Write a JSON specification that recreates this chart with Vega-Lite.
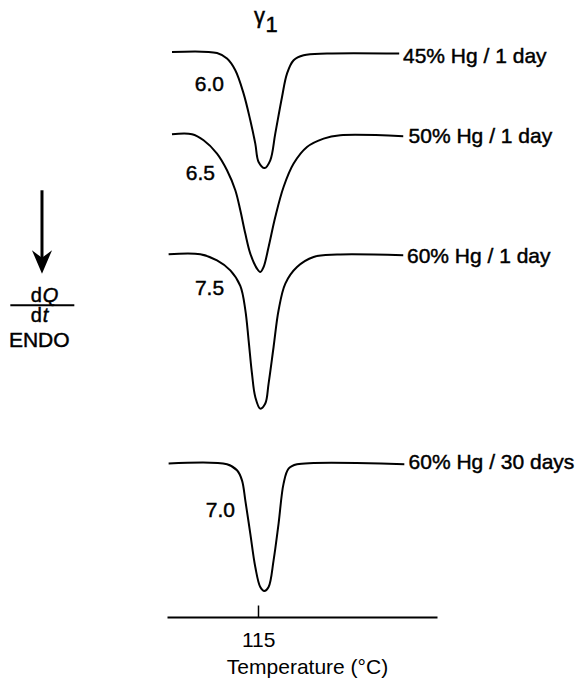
{
  "$schema": "https://vega.github.io/schema/vega-lite/v6.json",
  "width": 270,
  "height": 600,
  "autosize": {"type": "none"},
  "padding": {"left": 167, "top": 17, "right": 146, "bottom": 67},
  "background": "white",
  "config": {
    "view": {"stroke": null},
    "font": "Liberation Sans",
    "text": {"font": "Liberation Sans", "fontSize": 21, "color": "black", "fill": "black", "stroke": "black", "strokeWidth": 0.45}
  },
  "datasets": {
    "curves": [
      {"sample": "45% Hg / 1 day", "temperature": 102.24, "heat_flow": 94.17},
      {"sample": "45% Hg / 1 day", "temperature": 108.91, "heat_flow": 94.0},
      {"sample": "45% Hg / 1 day", "temperature": 110.39, "heat_flow": 93.07},
      {"sample": "45% Hg / 1 day", "temperature": 111.62, "heat_flow": 91.12},
      {"sample": "45% Hg / 1 day", "temperature": 112.85, "heat_flow": 87.23},
      {"sample": "45% Hg / 1 day", "temperature": 113.84, "heat_flow": 82.78},
      {"sample": "45% Hg / 1 day", "temperature": 114.58, "heat_flow": 78.9},
      {"sample": "45% Hg / 1 day", "temperature": 115.07, "heat_flow": 75.83},
      {"sample": "45% Hg / 1 day", "temperature": 115.96, "heat_flow": 74.83},
      {"sample": "45% Hg / 1 day", "temperature": 116.8, "heat_flow": 76.12},
      {"sample": "45% Hg / 1 day", "temperature": 117.54, "heat_flow": 80.57},
      {"sample": "45% Hg / 1 day", "temperature": 118.54, "heat_flow": 86.67},
      {"sample": "45% Hg / 1 day", "temperature": 119.28, "heat_flow": 90.57},
      {"sample": "45% Hg / 1 day", "temperature": 120.26, "heat_flow": 92.78},
      {"sample": "45% Hg / 1 day", "temperature": 121.74, "heat_flow": 93.62},
      {"sample": "45% Hg / 1 day", "temperature": 125.2, "heat_flow": 93.9},
      {"sample": "45% Hg / 1 day", "temperature": 135.9, "heat_flow": 93.9},

      {"sample": "50% Hg / 1 day", "temperature": 102.24, "heat_flow": 80.45},
      {"sample": "50% Hg / 1 day", "temperature": 105.2, "heat_flow": 80.45},
      {"sample": "50% Hg / 1 day", "temperature": 106.92, "heat_flow": 79.45},
      {"sample": "50% Hg / 1 day", "temperature": 108.91, "heat_flow": 77.23},
      {"sample": "50% Hg / 1 day", "temperature": 110.39, "heat_flow": 74.45},
      {"sample": "50% Hg / 1 day", "temperature": 111.62, "heat_flow": 71.12},
      {"sample": "50% Hg / 1 day", "temperature": 112.36, "heat_flow": 67.78},
      {"sample": "50% Hg / 1 day", "temperature": 113.1, "heat_flow": 63.9},
      {"sample": "50% Hg / 1 day", "temperature": 113.84, "heat_flow": 60.57},
      {"sample": "50% Hg / 1 day", "temperature": 114.83, "heat_flow": 58.07},
      {"sample": "50% Hg / 1 day", "temperature": 115.32, "heat_flow": 57.5},
      {"sample": "50% Hg / 1 day", "temperature": 115.81, "heat_flow": 58.33},
      {"sample": "50% Hg / 1 day", "temperature": 116.55, "heat_flow": 61.67},
      {"sample": "50% Hg / 1 day", "temperature": 117.54, "heat_flow": 66.67},
      {"sample": "50% Hg / 1 day", "temperature": 118.77, "heat_flow": 71.67},
      {"sample": "50% Hg / 1 day", "temperature": 120.26, "heat_flow": 75.57},
      {"sample": "50% Hg / 1 day", "temperature": 122.24, "heat_flow": 78.33},
      {"sample": "50% Hg / 1 day", "temperature": 124.7, "heat_flow": 79.73},
      {"sample": "50% Hg / 1 day", "temperature": 127.17, "heat_flow": 80.28},
      {"sample": "50% Hg / 1 day", "temperature": 136.5, "heat_flow": 80.12},

      {"sample": "60% Hg / 1 day", "temperature": 101.74, "heat_flow": 60.45},
      {"sample": "60% Hg / 1 day", "temperature": 106.43, "heat_flow": 60.45},
      {"sample": "60% Hg / 1 day", "temperature": 108.91, "heat_flow": 59.45},
      {"sample": "60% Hg / 1 day", "temperature": 110.88, "heat_flow": 57.78},
      {"sample": "60% Hg / 1 day", "temperature": 112.36, "heat_flow": 55.2},
      {"sample": "60% Hg / 1 day", "temperature": 113.1, "heat_flow": 51.2},
      {"sample": "60% Hg / 1 day", "temperature": 113.59, "heat_flow": 46.12},
      {"sample": "60% Hg / 1 day", "temperature": 114.09, "heat_flow": 40.57},
      {"sample": "60% Hg / 1 day", "temperature": 114.58, "heat_flow": 36.67},
      {"sample": "60% Hg / 1 day", "temperature": 115.32, "heat_flow": 34.73},
      {"sample": "60% Hg / 1 day", "temperature": 116.06, "heat_flow": 35.57},
      {"sample": "60% Hg / 1 day", "temperature": 116.55, "heat_flow": 38.9},
      {"sample": "60% Hg / 1 day", "temperature": 117.29, "heat_flow": 45.0},
      {"sample": "60% Hg / 1 day", "temperature": 118.03, "heat_flow": 51.12},
      {"sample": "60% Hg / 1 day", "temperature": 119.03, "heat_flow": 55.57},
      {"sample": "60% Hg / 1 day", "temperature": 120.76, "heat_flow": 58.33},
      {"sample": "60% Hg / 1 day", "temperature": 123.22, "heat_flow": 60.0},
      {"sample": "60% Hg / 1 day", "temperature": 126.69, "heat_flow": 60.4},
      {"sample": "60% Hg / 1 day", "temperature": 136.5, "heat_flow": 60.28},

      {"sample": "60% Hg / 30 days", "temperature": 101.74, "heat_flow": 25.57},
      {"sample": "60% Hg / 30 days", "temperature": 110.39, "heat_flow": 25.45},
      {"sample": "60% Hg / 30 days", "temperature": 111.87, "heat_flow": 24.45},
      {"sample": "60% Hg / 30 days", "temperature": 112.61, "heat_flow": 22.78},
      {"sample": "60% Hg / 30 days", "temperature": 113.1, "heat_flow": 19.45},
      {"sample": "60% Hg / 30 days", "temperature": 113.84, "heat_flow": 13.9},
      {"sample": "60% Hg / 30 days", "temperature": 114.58, "heat_flow": 8.33},
      {"sample": "60% Hg / 30 days", "temperature": 115.32, "heat_flow": 5.0},
      {"sample": "60% Hg / 30 days", "temperature": 115.91, "heat_flow": 4.33},
      {"sample": "60% Hg / 30 days", "temperature": 116.55, "heat_flow": 5.0},
      {"sample": "60% Hg / 30 days", "temperature": 117.29, "heat_flow": 9.45},
      {"sample": "60% Hg / 30 days", "temperature": 118.03, "heat_flow": 15.57},
      {"sample": "60% Hg / 30 days", "temperature": 118.77, "heat_flow": 22.23},
      {"sample": "60% Hg / 30 days", "temperature": 119.51, "heat_flow": 24.73},
      {"sample": "60% Hg / 30 days", "temperature": 120.76, "heat_flow": 25.45},
      {"sample": "60% Hg / 30 days", "temperature": 136.66, "heat_flow": 25.45}
    ],
    "sampleLabels": [
      {"text": "45% Hg / 1 day", "temperature": 136.46, "heat_flow": 93.33},
      {"text": "50% Hg / 1 day", "temperature": 137.29, "heat_flow": 80.0},
      {"text": "60% Hg / 1 day", "temperature": 137.05, "heat_flow": 59.95},
      {"text": "60% Hg / 30 days", "temperature": 137.29, "heat_flow": 25.67}
    ],
    "peakLabels": [
      {"text": "6.0", "temperature": 107.77, "heat_flow": 88.62},
      {"text": "6.5", "temperature": 106.44, "heat_flow": 73.78},
      {"text": "7.5", "temperature": 107.8, "heat_flow": 54.73},
      {"text": "7.0", "temperature": 109.4, "heat_flow": 17.65}
    ],
    "gamma": [
      {"text": "γ", "temperature": 115.2, "heat_flow": 98.95},
      {"text": "1", "temperature": 117.0, "heat_flow": 97.45}
    ],
    "arrowShaft": [
      {"temperature": 82.98, "heat_flow": 71.12, "heat_flow_end": 59.5}
    ],
    "arrowHead": [
      {"temperature": 82.98, "heat_flow": 59.17}
    ],
    "fractionBar": [
      {"temperature": 78.29, "temperature_end": 87.77, "heat_flow": 51.95}
    ],
    "uprightD": [
      {"text": "d", "temperature": 82.95, "heat_flow": 53.57},
      {"text": "d", "temperature": 82.95, "heat_flow": 50.12}
    ],
    "italicVars": [
      {"text": "Q", "temperature": 82.95, "heat_flow": 53.57},
      {"text": "t", "temperature": 82.95, "heat_flow": 50.12}
    ],
    "endo": [
      {"text": "ENDO", "temperature": 82.58, "heat_flow": 45.95}
    ]
  },
  "layer": [
    {
      "data": {"name": "curves"},
      "mark": {"type": "line", "interpolate": "catmull-rom", "stroke": "black", "strokeWidth": 2},
      "encoding": {
        "x": {
          "field": "temperature", "type": "quantitative",
          "scale": {"domain": [101.5, 141.5], "nice": false, "zero": false},
          "axis": {
            "values": [115], "title": "Temperature (°C)", "grid": false,
            "domain": true, "domainColor": "black", "domainWidth": 2,
            "ticks": true, "tickColor": "black", "tickWidth": 1.5, "tickSize": -12,
            "labelFont": "Liberation Sans", "labelFontSize": 21, "labelColor": "black", "labelPadding": 24,
            "titleFont": "Liberation Sans", "titleFontSize": 21, "titleFontWeight": "normal", "titleColor": "black", "titlePadding": 6,
            "titleX": 140
          }
        },
        "y": {
          "field": "heat_flow", "type": "quantitative",
          "scale": {"domain": [0, 100], "nice": false, "zero": false},
          "axis": null
        },
        "detail": {"field": "sample", "type": "nominal"}
      }
    },
    {
      "data": {"name": "sampleLabels"},
      "mark": {"type": "text", "align": "left", "baseline": "middle"},
      "encoding": {
        "x": {"field": "temperature", "type": "quantitative"},
        "y": {"field": "heat_flow", "type": "quantitative"},
        "text": {"field": "text"}
      }
    },
    {
      "data": {"name": "peakLabels"},
      "mark": {"type": "text", "align": "center", "baseline": "middle"},
      "encoding": {
        "x": {"field": "temperature", "type": "quantitative"},
        "y": {"field": "heat_flow", "type": "quantitative"},
        "text": {"field": "text"}
      }
    },
    {
      "data": {"name": "gamma"},
      "mark": {"type": "text", "align": "center", "baseline": "alphabetic", "fontSize": 22},
      "encoding": {
        "x": {"field": "temperature", "type": "quantitative"},
        "y": {"field": "heat_flow", "type": "quantitative"},
        "text": {"field": "text"}
      }
    },
    {
      "data": {"name": "arrowShaft"},
      "mark": {"type": "rule", "stroke": "black", "strokeWidth": 3},
      "encoding": {
        "x": {"field": "temperature", "type": "quantitative"},
        "y": {"field": "heat_flow", "type": "quantitative"},
        "y2": {"field": "heat_flow_end"}
      }
    },
    {
      "data": {"name": "arrowHead"},
      "mark": {"type": "point", "shape": "M0,1 L-0.85,-1 L0,-0.35 L0.85,-1 Z", "filled": true, "fill": "black", "stroke": null, "opacity": 1, "size": 560},
      "encoding": {
        "x": {"field": "temperature", "type": "quantitative"},
        "y": {"field": "heat_flow", "type": "quantitative"}
      }
    },
    {
      "data": {"name": "fractionBar"},
      "mark": {"type": "rule", "stroke": "black", "strokeWidth": 2},
      "encoding": {
        "x": {"field": "temperature", "type": "quantitative"},
        "x2": {"field": "temperature_end"},
        "y": {"field": "heat_flow", "type": "quantitative"}
      }
    },
    {
      "data": {"name": "uprightD"},
      "mark": {"type": "text", "align": "right", "baseline": "middle", "fontSize": 20},
      "encoding": {
        "x": {"field": "temperature", "type": "quantitative"},
        "y": {"field": "heat_flow", "type": "quantitative"},
        "text": {"field": "text"}
      }
    },
    {
      "data": {"name": "italicVars"},
      "mark": {"type": "text", "align": "left", "baseline": "middle", "fontSize": 20, "fontStyle": "italic", "dx": 1},
      "encoding": {
        "x": {"field": "temperature", "type": "quantitative"},
        "y": {"field": "heat_flow", "type": "quantitative"},
        "text": {"field": "text"}
      }
    },
    {
      "data": {"name": "endo"},
      "mark": {"type": "text", "align": "center", "baseline": "middle", "fontSize": 21},
      "encoding": {
        "x": {"field": "temperature", "type": "quantitative"},
        "y": {"field": "heat_flow", "type": "quantitative"},
        "text": {"field": "text"}
      }
    }
  ]
}
